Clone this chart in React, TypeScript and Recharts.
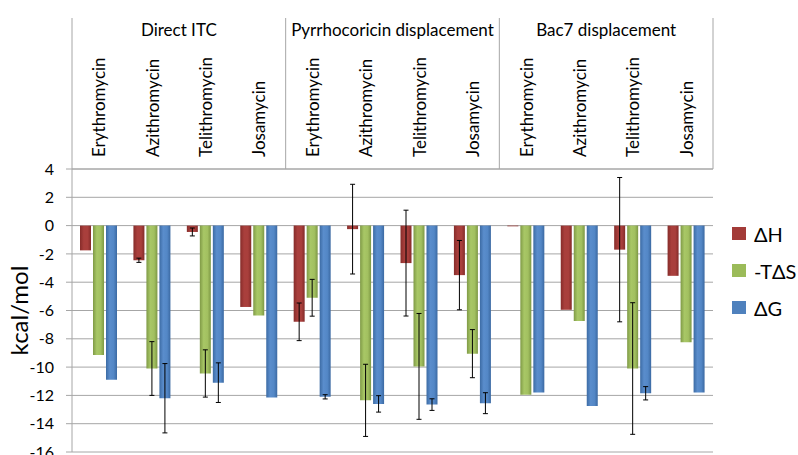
import React from 'react'
import { BarChart, Bar, XAxis, YAxis, CartesianGrid, ErrorBar } from 'recharts'

const groups = ['Direct ITC', 'Pyrrhocoricin displacement', 'Bac7 displacement']
const drugs = ['Erythromycin', 'Azithromycin', 'Telithromycin', 'Josamycin']

// values, 12 categories (3 groups x 4 drugs)
const dH = [-1.75, -2.45, -0.45, -5.75, -6.8, -0.25, -2.65, -3.5, -0.05, -5.95, -1.7, -3.55]
const dHErr = [0, 0.15, 0.28, 0, 1.33, 3.17, 3.74, 2.45, 0, 0, 5.1, 0]
const tdS = [-9.15, -10.1, -10.45, -6.35, -5.1, -12.35, -9.95, -9.05, -11.95, -6.75, -10.1, -8.25]
const tdSErr = [0, 1.9, 1.67, 0, 1.3, 2.55, 3.74, 1.7, 0, 0, 4.65, 0]
const dG = [-10.9, -12.2, -11.1, -12.15, -12.1, -12.6, -12.65, -12.55, -11.8, -12.75, -11.85, -11.8]
const dGErr = [0, 2.45, 1.4, 0, 0.15, 0.58, 0.41, 0.74, 0, 0, 0.47, 0]
const yTicks = [4, 2, 0, -2, -4, -6, -8, -10, -12, -14, -16]

const data = dH.map((v, i) => ({
  drug: drugs[i % 4],
  group: groups[Math.floor(i / 4)],
  dH: v,
  dHErr: dHErr[i],
  tdS: tdS[i],
  tdSErr: tdSErr[i],
  dG: dG[i],
  dGErr: dGErr[i],
}))

const W = 798
const H = 455
const MARGIN = { top: 18, right: 85, bottom: 3, left: 0 }
const Y_W = 72
const HEADER_H = 151
const BAND = (W - MARGIN.left - MARGIN.right - Y_W) / data.length
const FONT = 'Lato, "Open Sans", sans-serif'
const LINE = '#a6a6a6'

const series = [
  { key: 'dH', err: 'dHErr', name: 'ΔH', id: 'gRed', stops: ['#862c2a', '#a93f3c', '#a93f3c', '#842b29'], swatch: '#a33b38' },
  { key: 'tdS', err: 'tdSErr', name: '-TΔS', id: 'gGreen', stops: ['#7f9a46', '#a8c766', '#a2c060', '#7d9844'], swatch: '#9bbb59' },
  { key: 'dG', err: 'dGErr', name: 'ΔG', id: 'gBlue', stops: ['#3c6ba4', '#5a8dcc', '#5387c6', '#3b69a2'], swatch: '#4f81bd' },
]

function HeaderTick(props: any) {
  const { x, y, payload, index } = props
  const left = x - BAND / 2
  return (
    <g>
      <text
        transform={`translate(${x},${y - 12}) rotate(-90)`}
        textAnchor="start"
        dominantBaseline="central"
        fontSize={17}
        fontFamily={FONT}
        fill="#000"
      >
        {payload.value}
      </text>
      {index % 4 === 0 && (
        <>
          <line x1={left} x2={left} y1={y - HEADER_H} y2={y} stroke={LINE} />
          <text
            x={left + 2 * BAND}
            y={y - 140}
            textAnchor="middle"
            dominantBaseline="central"
            fontSize={17}
            fontFamily={FONT}
            fill="#000"
          >
            {data[index].group}
          </text>
        </>
      )}
      {index === data.length - 1 && (
        <line x1={x + BAND / 2} x2={x + BAND / 2} y1={y - HEADER_H} y2={y} stroke={LINE} />
      )}
    </g>
  )
}

function YLabel(props: any) {
  const { viewBox } = props
  const cx = viewBox.x + 18
  const cy = viewBox.y + viewBox.height / 2
  return (
    <text
      transform={`translate(${cx},${cy}) rotate(-90)`}
      textAnchor="middle"
      dominantBaseline="central"
      fontSize={24}
      fontFamily={FONT}
      fill="#000"
    >
      kcal/mol
    </text>
  )
}

function LegendBox() {
  return (
    <div
      style={{
        position: 'absolute',
        left: 732,
        top: 215,
        fontFamily: FONT,
        fontSize: 20,
      }}
    >
      {series.map((s) => (
        <div key={s.key} style={{ display: 'flex', alignItems: 'center', height: 37 }}>
          <span
            style={{
              display: 'inline-block',
              width: 14,
              height: 13,
              background: s.swatch,
              marginRight: 8,
            }}
          />
          <span>{s.name}</span>
        </div>
      ))}
    </div>
  )
}

export default function App() {
  return (
    <div style={{ position: 'absolute', left: 0, top: 0, width: W, height: H, background: '#fff' }}>
      <BarChart
        width={W}
        height={H}
        data={data}
        margin={MARGIN}
        barSize={11}
        barGap={2}
      >
        <defs>
          {series.map((s) => (
            <linearGradient key={s.id} id={s.id} x1="0" x2="1" y1="0" y2="0">
              <stop offset="0" stopColor={s.stops[0]} />
              <stop offset="0.35" stopColor={s.stops[1]} />
              <stop offset="0.7" stopColor={s.stops[2]} />
              <stop offset="1" stopColor={s.stops[3]} />
            </linearGradient>
          ))}
        </defs>
        <CartesianGrid vertical={false} stroke={LINE} horizontalValues={yTicks} />
        <XAxis
          dataKey="drug"
          orientation="top"
          height={HEADER_H}
          interval={0}
          tickLine={false}
          tickSize={0}
          tickMargin={0}
          axisLine={{ stroke: LINE }}
          tick={<HeaderTick />}
        />
        <YAxis
          width={Y_W}
          domain={[-16, 4]}
          ticks={yTicks}
          interval={0}
          tickSize={6}
          tickMargin={12}
          tickLine={{ stroke: LINE }}
          axisLine={{ stroke: LINE }}
          tick={{ fontSize: 16, fontFamily: FONT, fill: '#000' }}
          label={<YLabel />}
        />
        {series.map((s) => (
          <Bar key={s.key} dataKey={s.key} name={s.name} fill={`url(#${s.id})`} isAnimationActive={false}>
            <ErrorBar dataKey={s.err} direction="y" width={2.5} stroke="#000" strokeWidth={1} />
          </Bar>
        ))}
      </BarChart>
      <LegendBox />
    </div>
  )
}
